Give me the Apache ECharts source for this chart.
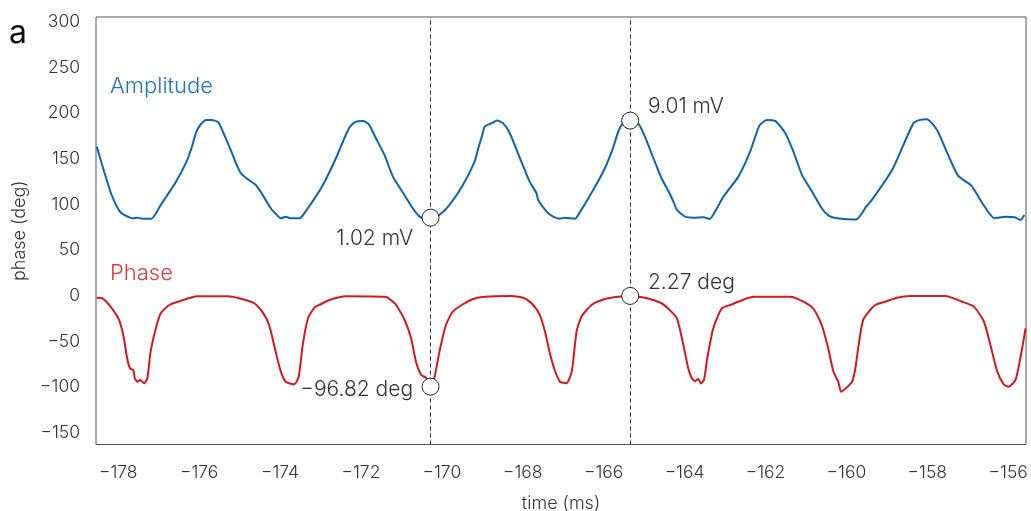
<!DOCTYPE html>
<html><head><meta charset="utf-8">
<script src="https://cdn.jsdelivr.net/npm/echarts@6/dist/echarts.min.js"></script>
<style>html,body{margin:0;padding:0;background:#fff}#c{width:1031px;height:511px}</style>
</head><body><div id="c"></div>
<script>
const ampTime = [-178.53,-178.35,-178.17,-177.96,-177.82,-177.63,-177.54,-177.40,-177.18,-176.95,-176.58,-176.33,-176.19,-176.08,-175.96,-175.83,-175.70,-175.53,-175.38,-175.22,-175.09,-174.97,-174.81,-174.60,-174.44,-174.23,-174.08,-173.98,-173.86,-173.75,-173.52,-173.36,-172.94,-172.62,-172.41,-172.27,-172.12,-171.95,-171.81,-171.63,-171.42,-171.21,-170.97,-170.72,-170.55,-170.43,-170.28,-170.06,-169.81,-169.48,-169.19,-169.10,-169.00,-168.94,-168.77,-168.63,-168.49,-168.32,-168.07,-167.83,-167.66,-167.62,-167.41,-167.25,-167.08,-166.96,-166.71,-166.63,-166.26,-165.97,-165.77,-165.64,-165.52,-165.35,-165.15,-164.98,-164.77,-164.57,-164.40,-164.26,-164.19,-163.99,-163.78,-163.53,-163.38,-163.24,-163.04,-162.67,-162.38,-162.15,-161.97,-161.76,-161.51,-161.31,-161.10,-160.90,-160.61,-160.44,-160.23,-159.76,-159.51,-159.37,-158.87,-158.59,-158.34,-158.18,-158.01,-157.76,-157.52,-157.24,-156.91,-156.64,-156.34,-156.07,-155.84,-155.70,-155.60];
const ampValue = [163.1,135.8,111.0,92.0,87.6,84.7,85.4,84.3,84.3,99.3,124.2,145.0,161.4,177.8,187.7,192.4,192.4,189.9,176.0,159.5,145.0,134.0,127.8,121.2,111.0,95.7,88.4,84.7,86.5,84.7,84.7,92.7,121.2,150.4,172.3,185.0,190.5,191.3,187.7,172.3,154.1,130.3,113.2,95.7,86.5,84.7,84.7,88.4,99.3,121.2,146.7,161.4,176.0,185.0,188.8,191.6,188.8,177.8,150.4,124.8,112.1,104.8,92.0,86.5,84.3,85.4,84.3,88.4,115.7,139.5,161.4,179.6,188.8,192.0,188.8,174.1,150.4,128.5,114.5,101.2,93.8,86.5,85.4,85.8,84.0,92.7,108.4,130.3,157.7,186.1,192.4,191.3,177.8,157.7,132.2,117.6,95.7,87.6,84.7,83.3,97.4,104.8,137.6,165.0,188.8,192.4,193.1,181.4,157.7,131.4,120.4,101.2,84.7,86.5,85.8,82.9,88.4];
const phaseTime = [-178.53,-178.39,-178.19,-177.98,-177.86,-177.78,-177.71,-177.63,-177.59,-177.53,-177.46,-177.36,-177.28,-177.20,-177.07,-176.95,-176.74,-176.46,-176.05,-175.30,-175.01,-174.64,-174.44,-174.27,-174.11,-173.98,-173.86,-173.65,-173.54,-173.44,-173.31,-173.15,-173.03,-172.78,-172.37,-171.38,-171.21,-171.13,-170.92,-170.76,-170.64,-170.51,-170.39,-170.29,-170.18,-170.06,-169.90,-169.73,-169.48,-169.23,-169.00,-168.28,-167.95,-167.74,-167.58,-167.45,-167.33,-167.21,-167.08,-166.92,-166.79,-166.67,-166.55,-166.30,-165.97,-165.64,-165.35,-164.98,-164.57,-164.37,-164.19,-164.03,-163.91,-163.82,-163.74,-163.66,-163.60,-163.52,-163.44,-163.29,-163.08,-162.87,-162.30,-161.39,-161.06,-160.81,-160.61,-160.45,-160.32,-160.20,-160.13,-159.86,-159.78,-159.70,-159.58,-159.29,-159.04,-158.75,-158.42,-157.55,-157.14,-156.85,-156.60,-156.44,-156.27,-156.11,-155.99,-155.82,-155.70,-155.57];
const phaseValue = [-2.2,-2.9,-12.0,-26.6,-46.6,-68.5,-79.5,-81.4,-90.4,-94.2,-92.3,-95.9,-90.4,-61.3,-35.7,-19.3,-10.2,-5.8,-0.7,-0.7,-2.9,-8.3,-17.5,-32.1,-61.3,-83.2,-94.2,-97.0,-88.7,-54.0,-24.7,-13.1,-10.2,-4.7,-0.7,-1.4,-6.6,-10.2,-26.6,-46.6,-72.3,-86.8,-89.8,-97.8,-88.7,-61.3,-32.1,-17.5,-9.4,-3.6,-1.4,-0.3,-2.9,-10.2,-21.1,-39.4,-63.1,-81.4,-94.2,-95.9,-83.2,-39.4,-23.0,-10.2,-3.6,-1.1,-0.3,-2.2,-8.3,-15.7,-24.7,-54.0,-79.5,-90.4,-93.4,-91.2,-95.9,-92.3,-68.5,-35.7,-13.8,-10.2,-1.1,-1.1,-6.6,-14.6,-32.1,-57.6,-83.2,-94.2,-105.1,-94.2,-80.0,-55.0,-26.0,-10.2,-6.6,-2.2,-0.3,-0.3,-6.6,-12.0,-28.5,-54.0,-83.2,-97.0,-99.6,-92.3,-68.5,-35.7];
const xTicks = [-178,-176,-174,-172,-170,-168,-166,-164,-162,-160,-158,-156];
const yTicks = [-150,-100,-50,0,50,100,150,200,250,300];
const cursorTimes = [-170.28, -165.345];
const markerTime = [-170.28, -170.28, -165.345, -165.345];
const markerValue = [85.4, -99.6, 191.6, -0.3];
const markerText = ['1.02 mV', '\u221296.82 deg', '9.01 mV', '2.27 deg'];
const seriesNames = ['Amplitude', 'Phase'];
const xName = 'time (ms)';
const yName = 'phase (deg)';
const panelLetter = 'a';

const FONT = 'Inter, Roboto, "Noto Sans", sans-serif';
const minus = v => String(v).replace('-', '\u2212');
const zip = (a, b) => a.map((t, i) => [t, b[i]]);
const labelPlace = [
  {position: [-8.5, 29.6], align: 'right'},
  {position: [-8.5, 12], align: 'right'},
  {position: [26.8, -5.2], align: 'left'},
  {position: [26.8, -4.7], align: 'left'}
];
const TXT = '#333';

const chart = echarts.init(document.getElementById('c'), null, {renderer: 'canvas'});
chart.setOption({
  animation: false,
  backgroundColor: '#fff',
  grid: {left: 96, right: 5, top: 17, bottom: 66.5, show: true, borderColor: '#555', borderWidth: 1, outerBoundsMode: 'none'},
  xAxis: {
    type: 'value', min: -178.55, max: -155.56,
    name: xName, nameLocation: 'middle', nameGap: 50,
    nameTextStyle: {fontFamily: FONT, fontSize: 18, color: TXT, fontWeight: 300},
    axisLine: {show: false}, axisTick: {show: false}, splitLine: {show: false},
    axisLabel: {customValues: xTicks, formatter: minus, margin: 19, fontFamily: FONT, fontSize: 17.5, color: TXT, fontWeight: 300}
  },
  yAxis: {
    type: 'value', min: -162.9, max: 305,
    name: yName, nameLocation: 'middle', nameGap: 67,
    nameTextStyle: {fontFamily: FONT, fontSize: 18, color: TXT, fontWeight: 300},
    axisLine: {show: false}, axisTick: {show: false}, splitLine: {show: false},
    axisLabel: {customValues: yTicks, formatter: minus, margin: 16, fontFamily: FONT, fontSize: 17.5, color: TXT, fontWeight: 300}
  },
  graphic: [
    {type: 'text', left: 9, top: 17, style: {text: panelLetter, font: '32px ' + FONT, fill: '#111'}},
    {type: 'text', left: 110, top: 75, style: {text: seriesNames[0], font: '300 22px ' + FONT, fill: '#2472be'}},
    {type: 'text', left: 110, top: 262, style: {text: seriesNames[1], font: '300 22px ' + FONT, fill: '#e0393e'}}
  ],
  series: [
    {
      name: seriesNames[0], type: 'line', data: zip(ampTime, ampValue), showSymbol: false, smooth: 0.2,
      lineStyle: {color: '#0f63ad', width: 2}, z: 2,
      markLine: {
        silent: true, symbol: ['none', 'none'], label: {show: false},
        lineStyle: {color: '#222', type: [4, 3], width: 1},
        data: cursorTimes.map(t => ({xAxis: t}))
      }
    },
    {
      name: seriesNames[1], type: 'line', data: zip(phaseTime, phaseValue), showSymbol: false, smooth: 0.2,
      lineStyle: {color: '#d41820', width: 2}, z: 2
    },
    {
      type: 'scatter', z: 5, symbolSize: 17,
      itemStyle: {color: '#fff', borderColor: '#222', borderWidth: 1, opacity: 1},
      data: markerTime.map((t, i) => ({
        value: [t, markerValue[i]],
        label: {show: true, formatter: markerText[i], position: labelPlace[i].position, align: labelPlace[i].align,
          verticalAlign: 'middle', fontFamily: FONT, fontSize: 21, color: TXT, fontWeight: 300}
      }))
    }
  ]
});
</script></body></html>
